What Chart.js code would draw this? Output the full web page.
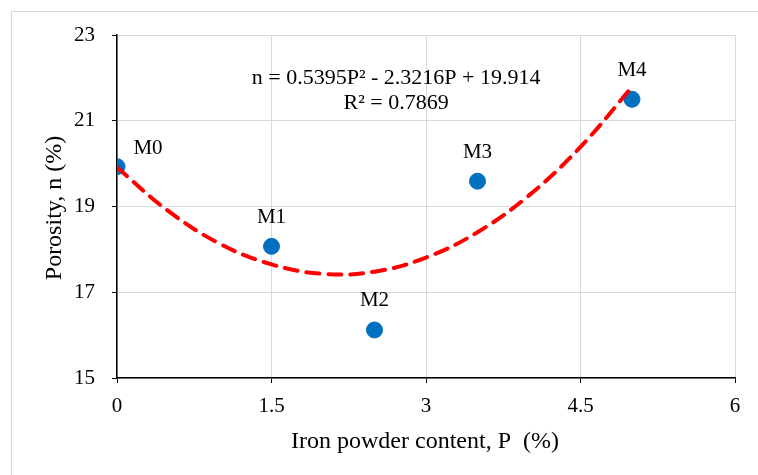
<!DOCTYPE html>
<html>
<head>
<meta charset="utf-8">
<script src="https://cdn.jsdelivr.net/npm/chart.js@4"></script>
<style>
html,body{margin:0;padding:0;background:#fff;}
#wrap{width:758px;height:475px;position:relative;}
</style>
</head>
<body>
<div id="wrap"><canvas id="c" width="758" height="475"></canvas></div>
<script>
const sampleNames = ['M0', 'M1', 'M2', 'M3', 'M4'];
const ironContent = [0, 1.5, 2.5, 3.5, 5];
const porosity = [19.93, 18.07, 16.12, 19.59, 21.5];
const trendP = [0, 0.5, 1, 1.5, 2, 2.5, 3, 3.5, 4, 4.5, 5];
const trendN = [19.91, 18.89, 18.13, 17.65, 17.43, 17.48, 17.81, 18.40, 19.26, 20.39, 21.79];
const xTicks = [0, 1.5, 3, 4.5, 6];
const yTicks = [15, 17, 19, 21, 23];
const equationLines = ['n = 0.5395P² - 2.3216P + 19.914', 'R² = 0.7869'];
const xTitle = 'Iron powder content, P  (%)';
const yTitle = 'Porosity, n (%)';

const FONT = "'Liberation Serif', 'Times New Roman', serif";

const decorPlugin = {
  id: 'decor',
  beforeDraw(chart) {
    const ctx = chart.ctx;
    ctx.save();
    ctx.fillStyle = '#fff';
    ctx.fillRect(0, 0, chart.width, chart.height);
    ctx.strokeStyle = '#d9d9d9';
    ctx.lineWidth = 1;
    ctx.strokeRect(11.5, 11.5, 800, 500);
    ctx.restore();
  },
  afterDatasetsDraw(chart) {
    const ctx = chart.ctx;
    const xs = chart.scales.x, ys = chart.scales.y;
    const area = chart.chartArea;
    ctx.save();
    ctx.fillStyle = '#000';
    ctx.font = '21px ' + FONT;
    ctx.textAlign = 'center';
    ctx.textBaseline = 'middle';
    sampleNames.forEach((nm, i) => {
      let px = xs.getPixelForValue(ironContent[i]);
      let py = ys.getPixelForValue(porosity[i]);
      if (i === 0) { px += 31; py -= 18; }
      else { py -= 29; }
      ctx.fillText(nm, px, py);
    });
    ctx.font = '22px ' + FONT;
    const cx = xs.getPixelForValue(2.71);
    ctx.fillText(equationLines[0], cx, ys.getPixelForValue(22.0));
    ctx.fillText(equationLines[1], cx, ys.getPixelForValue(21.4));
    // axis titles
    ctx.font = '24px ' + FONT;
    ctx.fillText(xTitle, 425, 442);
    ctx.save();
    ctx.translate(55, 208);
    ctx.rotate(-Math.PI / 2);
    ctx.fillText(yTitle, 0, 0);
    ctx.restore();
    ctx.restore();
  }
};

new Chart(document.getElementById('c'), {
  type: 'scatter',
  data: {
    datasets: [
      {
        label: 'trend',
        data: trendP.map((p, i) => ({x: p, y: trendN[i]})),
        showLine: true,
        borderColor: '#ff0000',
        borderWidth: 4,
        borderDash: [13, 9],
        borderCapStyle: 'round',
        pointRadius: 0,
        tension: 0.4,
        fill: false,
        order: 0
      },
      {
        label: 'data',
        data: ironContent.map((p, i) => ({x: p, y: porosity[i]})),
        backgroundColor: '#0070c0',
        borderColor: '#0070c0',
        pointRadius: 8,
        order: 1
      }
    ]
  },
  options: {
    responsive: false,
    animation: false,
    devicePixelRatio: 1,
    layout: {padding: {left: 0, top: 35, right: 23, bottom: 0}},
    plugins: {legend: {display: false}, tooltip: {enabled: false}},
    scales: {
      x: {
        type: 'linear',
        min: 0, max: 6,
        afterBuildTicks(s) { s.ticks = xTicks.map(v => ({value: v})); },
        afterFit(s) { s.height = 97; },
        grid: {color: '#d9d9d9', tickColor: '#000', tickLength: 5, lineWidth: 1},
        border: {color: '#000', width: 1.5},
        ticks: {color: '#000', font: {family: FONT, size: 21}, padding: 11, maxRotation: 0,
          callback: v => String(v)},
        title: {display: false}
      },
      y: {
        type: 'linear',
        min: 15, max: 23,
        afterBuildTicks(s) { s.ticks = yTicks.map(v => ({value: v})); },
        afterFit(s) { s.width = 117; },
        grid: {color: '#d9d9d9', tickColor: '#000', tickLength: 5, lineWidth: 1},
        border: {color: '#000', width: 1.5},
        ticks: {color: '#000', font: {family: FONT, size: 21}, padding: 17,
          callback: v => String(v)},
        title: {display: false}
      }
    }
  },
  plugins: [decorPlugin]
});
</script>
</body>
</html>
